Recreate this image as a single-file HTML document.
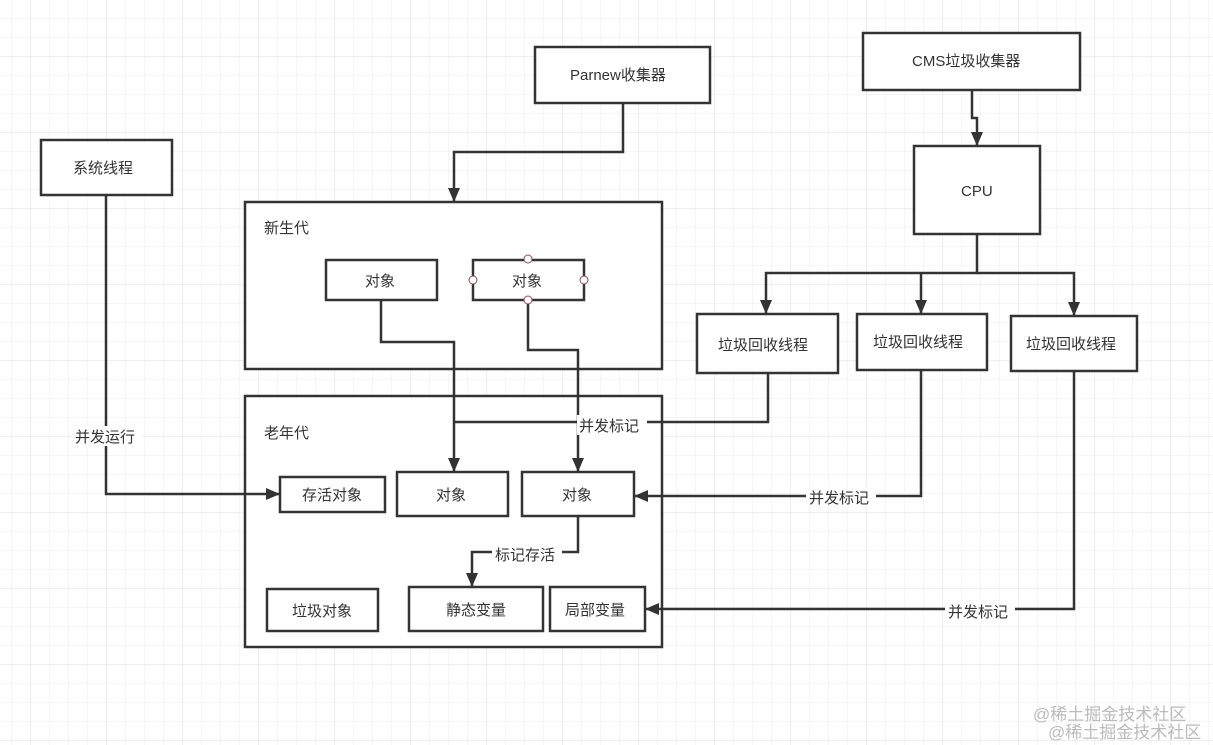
<!DOCTYPE html>
<html><head><meta charset="utf-8"><style>
html,body{margin:0;padding:0;background:#fff}
svg{display:block}
text{font-family:"Liberation Sans","Noto Sans CJK SC",sans-serif;font-size:15px;fill:#333}
</style></head><body>
<svg width="1213" height="745" viewBox="0 0 1213 745" xmlns="http://www.w3.org/2000/svg">
<defs>
<pattern id="g" x="11" y="18" width="19" height="19" patternUnits="userSpaceOnUse">
<path d="M0 0H19M0 0V19" stroke="#ececec" stroke-width="1" fill="none"/>
</pattern>
<pattern id="G" x="30" y="56" width="76" height="76" patternUnits="userSpaceOnUse">
<path d="M0 0H76M0 0V76" stroke="#dedede" stroke-width="1" fill="none"/>
</pattern>
<marker id="a" markerWidth="14" markerHeight="12" refX="13" refY="6" orient="auto" markerUnits="userSpaceOnUse">
<path d="M0 0L14 6L0 12z" fill="#333"/>
</marker>
</defs>
<rect width="1213" height="745" fill="url(#g)"/>
<rect width="1213" height="745" fill="url(#G)"/>
<g fill="#fff" stroke="#333" stroke-width="2.5">
<rect x="535" y="47" width="175" height="56"/>
<rect x="863" y="33" width="217" height="57"/>
<rect x="41" y="140" width="131" height="55"/>
<rect x="914" y="146" width="126" height="88"/>
<rect x="245" y="202" width="417" height="167"/>
<rect x="245" y="396" width="417" height="251"/>
<rect x="326" y="260" width="111" height="40"/>
<rect x="473" y="260" width="111" height="40"/>
<rect x="697" y="314" width="141" height="59"/>
<rect x="857" y="314" width="130" height="56"/>
<rect x="1011" y="316" width="126" height="55"/>
<rect x="280" y="477" width="105" height="35"/>
<rect x="397" y="472" width="111" height="44"/>
<rect x="522" y="472" width="112" height="44"/>
<rect x="267" y="589" width="111" height="42"/>
<rect x="409" y="587" width="134" height="44"/>
<rect x="550" y="587" width="95" height="44"/>
</g>
<g fill="#fff" stroke="#8a4a55" stroke-width="1">
<circle cx="528" cy="259" r="4"/><circle cx="528" cy="300" r="4"/>
<circle cx="473" cy="280" r="4"/><circle cx="584" cy="280" r="4"/>
</g>
<g fill="none" stroke="#333" stroke-width="2.5" marker-end="url(#a)">
<path d="M623 103V152H454V201"/>
<path d="M972 90V118H977V145"/>
<path d="M977 234V273H766V313"/>
<path d="M921 273V313"/>
<path d="M977 273H1074V315"/>
<path d="M106 195V494H279"/>
<path d="M381 300V342H454V471"/>
<path d="M528 304V350H578V471"/>
<path d="M921 370V496H635"/>
<path d="M1074 371V609H646"/>
<path d="M578 516V552H472V586"/>
</g>
<path d="M768 373V422H454" fill="none" stroke="#333" stroke-width="2.5"/>
<g fill="#fff">
<rect x="72" y="426" width="70" height="20"/>
<rect x="577" y="415" width="70" height="20"/>
<rect x="806" y="487" width="70" height="20"/>
<rect x="945" y="601" width="70" height="20"/>
<rect x="492" y="544" width="70" height="20"/>
</g>
<text x="570" y="80">Parnew收集器</text>
<text x="912" y="66">CMS垃圾收集器</text>
<text x="73" y="173">系统线程</text>
<text x="961" y="196">CPU</text>
<text x="264" y="233">新生代</text>
<text x="264" y="438">老年代</text>
<text x="365" y="286">对象</text>
<text x="512" y="286">对象</text>
<text x="718" y="350">垃圾回收线程</text>
<text x="873" y="347">垃圾回收线程</text>
<text x="1026" y="349">垃圾回收线程</text>
<text x="302" y="500">存活对象</text>
<text x="436" y="500">对象</text>
<text x="562" y="500">对象</text>
<text x="292" y="616">垃圾对象</text>
<text x="446" y="615">静态变量</text>
<text x="565" y="615">局部变量</text>
<text x="75" y="442">并发运行</text>
<text x="579" y="431">并发标记</text>
<text x="809" y="503">并发标记</text>
<text x="948" y="617">并发标记</text>
<text x="495" y="560">标记存活</text>
<text x="1033" y="720" style="fill:#bbb;font-size:17px">@稀土掘金技术社区</text>
<text x="1048" y="738" style="fill:#bbb;font-size:17px">@稀土掘金技术社区</text>
</svg>
</body></html>
